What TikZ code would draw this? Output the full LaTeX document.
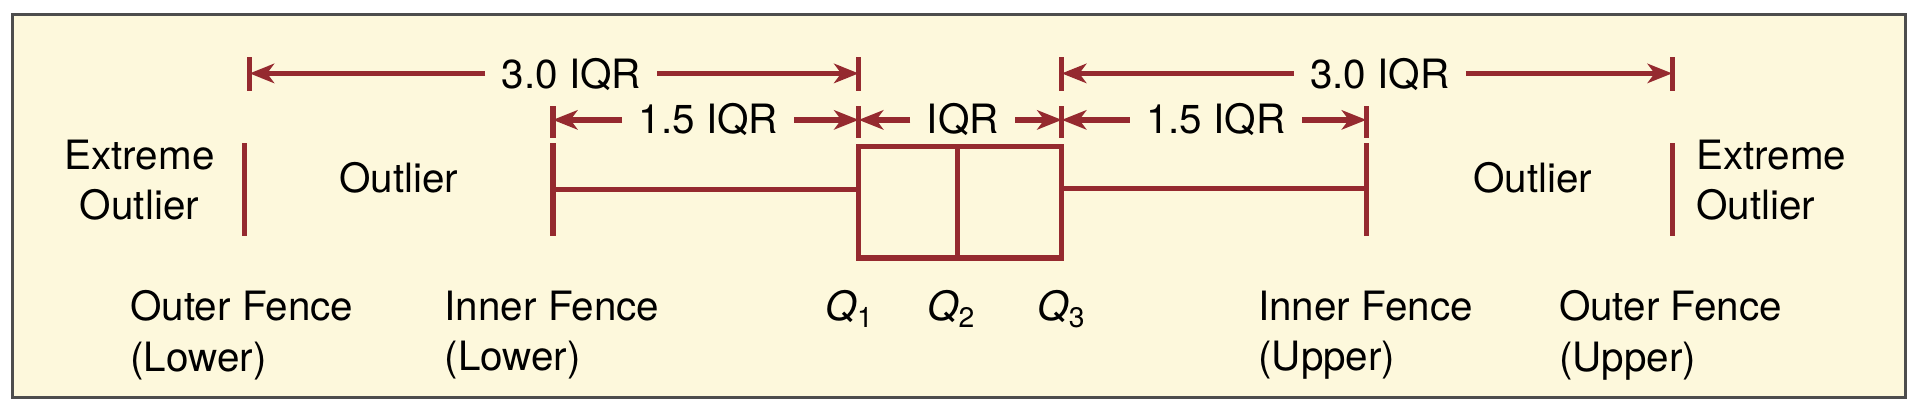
\documentclass[tikz,border=0pt]{standalone}
\usepackage{fontspec}
\setmainfont{TeX Gyre Heros}
\usetikzlibrary{arrows.meta}

\definecolor{fencered}{HTML}{952A2F}
\definecolor{panelfill}{HTML}{FDF8DC}
\definecolor{panelline}{HTML}{4D4D4D}

\begin{document}
\begin{tikzpicture}[
        x=0.012232cm, y=-0.012232cm,
        panel/.style={draw=panelline, fill=panelfill, line width=0.8pt},
        fence/.style={fencered, line width=1.5pt},
        span/.style={fencered, line width=1.5pt, -{Stealth[length=7pt, width=5.5pt, inset=2pt]}},
        txt/.style={font=\fontsize{11.5}{14.3}\selectfont, inner sep=0pt},
        gap/.style={txt, inner xsep=4.5pt}
    ]
        \useasboundingbox (0,0) rectangle (1568,335);
        \draw[panel] (10,12) rectangle (1558,325);

        % Ticks of the upper rows
        \foreach \x/\n in {204/ta, 702/tb, 868/tc, 1367/td} {
            \draw[fence] (\x,47) -- (\x,74);
            \coordinate (\n) at (\x,60);
        }
        \foreach \x/\n in {452/sa, 702/sb, 868/sc, 1117/sd} {
            \draw[fence] (\x,87) -- (\x,113);
            \coordinate (\n) at (\x,98);
        }

        % 3.0 IQR row
        \node[gap] (wl) at (467,61) {3.0 IQR};
        \node[gap] (wr) at (1128,61) {3.0 IQR};
        \draw[span] (ta -| wl.west) -- (ta);
        \draw[span] (tb -| wl.east) -- (tb);
        \draw[span] (tc -| wr.west) -- (tc);
        \draw[span] (td -| wr.east) -- (td);

        % 1.5 IQR and IQR row
        \node[gap] (hl) at (579,98) {1.5 IQR};
        \node[gap] (iq) at (787,98) {IQR};
        \node[gap] (hr) at (994,98) {1.5 IQR};
        \draw[span] (sa -| hl.west) -- (sa);
        \draw[span] (sb -| hl.east) -- (sb);
        \draw[span] (sb -| iq.west) -- (sb);
        \draw[span] (sc -| iq.east) -- (sc);
        \draw[span] (sc -| hr.west) -- (sc);
        \draw[span] (sd -| hr.east) -- (sd);

        % Fences
        \coordinate (olt) at (200,117);  \coordinate (olb) at (200,193);
        \coordinate (ilt) at (452,117);  \coordinate (ilb) at (452,193);
        \coordinate (iut) at (1117,117); \coordinate (iub) at (1117,193);
        \coordinate (out) at (1367,117); \coordinate (oub) at (1367,193);
        \draw[fence] (olt) -- (olb);
        \draw[fence] (ilt) -- (ilb);
        \draw[fence] (iut) -- (iub);
        \draw[fence] (out) -- (oub);

        % Box and whiskers
        \coordinate (q1t) at (702,120); \coordinate (q3b) at (868,211);
        \coordinate (q2t) at (783,120); \coordinate (q2b) at (783,211);
        \draw[fence] (q1t) rectangle (q3b);
        \draw[fence] (q2t) -- (q2b);
        \draw[fence] (ilt |- 0,155) -- (q1t |- 0,155);
        \draw[fence] (q3b |- 0,154) -- (iut |- 0,154);

        % Region labels
        \node[txt, align=center, anchor=north] (exl) at (114,114) {Extreme\\Outlier};
        \node[txt, anchor=base] (oll) at (326,157) {Outlier};
        \node[txt, anchor=base] (olu) at (1253,157) {Outlier};
        \node[txt, align=left, anchor=north west] (exu) at (1386,114) {Extreme\\Outlier};

        % Quartiles
        \node[txt, anchor=north] (q1l) at (695,237) {\textit{Q}\textsubscript{1}};
        \node[txt, anchor=north] (q2l) at (778,237) {\textit{Q}\textsubscript{2}};
        \node[txt, anchor=north] (q3l) at (868,237) {\textit{Q}\textsubscript{3}};

        % Fence names
        \node[txt, align=left, anchor=north west] (ofl) at (106,237) {Outer Fence\\(Lower)};
        \node[txt, align=left, anchor=north west] (ifl) at (363,237) {Inner Fence\\(Lower)};
        \node[txt, align=left, anchor=north west] (ifu) at (1028,237) {Inner Fence\\(Upper)};
        \node[txt, align=left, anchor=north west] (ofu) at (1274,237) {Outer Fence\\(Upper)};
\end{tikzpicture}
\end{document}
